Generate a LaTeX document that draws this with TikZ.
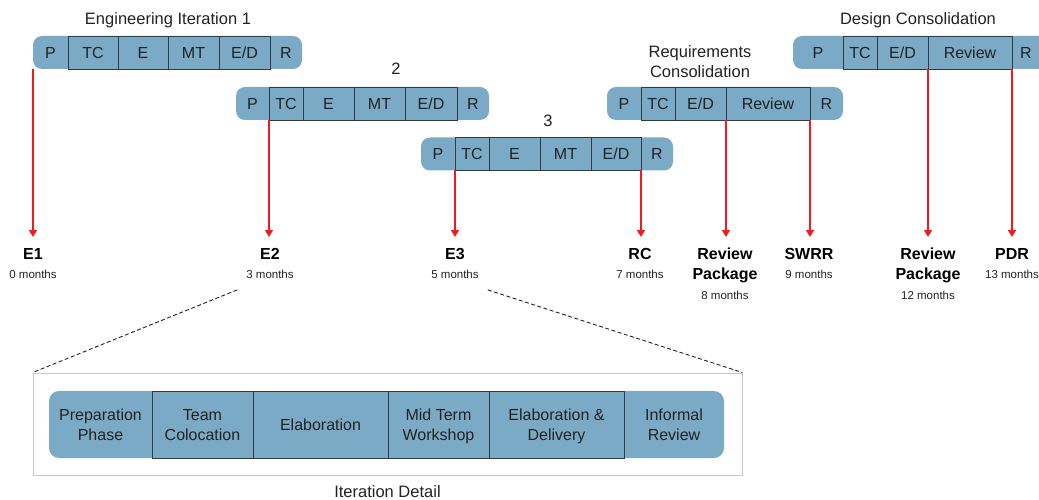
\documentclass[tikz,border=0pt]{standalone}
\usepackage{fontspec}
\setmainfont{Liberation Sans}
\usetikzlibrary{positioning,arrows.meta}

\definecolor{barblue}{RGB}{122,170,198}
\definecolor{segline}{RGB}{48,60,68}
\definecolor{inkgrey}{RGB}{34,34,34}
\definecolor{arrowred}{RGB}{245,25,25}
\definecolor{boxgrey}{RGB}{200,200,200}

\tikzstyle{barbg}=[fill=barblue,rounded corners=9pt,inner sep=0pt,minimum height=33pt]
\tikzstyle{endseg}=[inner sep=0pt,outer sep=0pt,minimum height=33pt,text height=11.4pt,text depth=0pt,text=inkgrey,font=\fontsize{16}{20}\selectfont]
\tikzstyle{seg}=[endseg,draw=segline,line width=0.9pt]
\tikzstyle{dend}=[inner sep=0pt,minimum height=67pt,align=center,text depth=0pt,text=inkgrey,font=\fontsize{16}{20}\selectfont]
\tikzstyle{dseg}=[dend,draw=segline,line width=0.9pt]
\tikzstyle{bartitle}=[anchor=north,align=center,inner sep=0pt,text=inkgrey,font=\fontsize{16.5}{20}\selectfont]
\tikzstyle{milestone}=[anchor=north,align=center,inner sep=1pt,text depth=0pt,text=black,font=\fontsize{16}{20}\selectfont\bfseries]
\tikzstyle{months}=[inner sep=0pt,text=inkgrey,font=\fontsize{11.5}{14}\selectfont]
\tikzstyle{feed}=[draw=arrowred,line width=1.6pt,-{Triangle[width=8pt,length=7pt]},shorten >=10pt]
\tikzstyle{zoomline}=[draw=inkgrey,line width=0.9pt,dash pattern=on 4pt off 2.5pt]
\tikzstyle{detailbox}=[draw=boxgrey,line width=0.9pt,inner sep=0pt]

\begin{document}
\begin{tikzpicture}[x=1pt, y=-1pt]
    \useasboundingbox (0,0) rectangle (1039,500);
    % First the rounded bars behind the phases
    \foreach \xa/\xb/\y/\name in {33/302/52.5/bar1, 236/489/103.5/bar2, 421/673/154/bar3, 607/843/103.5/barrc, 793/1060/52.5/bardc}
        \node[barbg, minimum width={(\xb-\xa)*1pt}] (\name) at ({(\xa+\xb)/2},\y) {};
    % Then the phases of every bar
    \foreach \xa/\xb/\y/\name/\txt/\kind in {
        33/68/52.5/b1p/P/endseg, 68/118/52.5/b1tc/TC/seg, 118/168/52.5/b1e/E/seg,
        168/219/52.5/b1mt/MT/seg, 219/270/52.5/b1ed/{E/D}/seg, 270/302/52.5/b1r/R/endseg,
        236/269/103.5/b2p/P/endseg, 269/303/103.5/b2tc/TC/seg, 303/354/103.5/b2e/E/seg,
        354/405/103.5/b2mt/MT/seg, 405/457/103.5/b2ed/{E/D}/seg, 457/489/103.5/b2r/R/endseg,
        421/455/154/b3p/P/endseg, 455/489/154/b3tc/TC/seg, 489/540/154/b3e/E/seg,
        540/591/154/b3mt/MT/seg, 591/641/154/b3ed/{E/D}/seg, 641/673/154/b3r/R/endseg,
        607/641/103.5/rcp/P/endseg, 641/675/103.5/rctc/TC/seg, 675/726/103.5/rced/{E/D}/seg,
        726/810/103.5/rcrev/Review/seg, 810/843/103.5/rcr/R/endseg,
        793/843/52.5/dcp/P/endseg, 843/877/52.5/dctc/TC/seg, 877/928/52.5/dced/{E/D}/seg,
        928/1012/52.5/dcrev/Review/seg, 1012/1040/52.5/dcr/R/endseg}
        \node[\kind, minimum width={(\xb-\xa)*1pt}] (\name) at ({(\xa+\xb)/2},\y) {\txt};
    % Titles over the bars
    \node[bartitle] (title1) at (168,12.5) {Engineering Iteration 1};
    \node[bartitle] (title2) at (396,63) {2};
    \node[bartitle] (title3) at (548,114.5) {3};
    \node[bartitle] (titlerc) at (700,45) {Requirements\\Consolidation};
    \node[bartitle] (titledc) at (918,12) {Design Consolidation};
    % Milestones and their dates
    \foreach \x/\name/\txt in {33/mE1/E1, 270/mE2/E2, 455/mE3/E3, 640/mRC/RC, 725/mRP1/{Review\\Package},
        809/mSWRR/SWRR, 928/mRP2/{Review\\Package}, 1012/mPDR/PDR}
        \node[milestone] (\name) at (\x,247) {\txt};
    \foreach \name/\ms/\n in {t0/mE1/0, t3/mE2/3, t5/mE3/5, t7/mRC/7, t8/mRP1/8, t9/mSWRR/9, t12/mRP2/12, t13/mPDR/13}
        \node[months, below=9.5pt of \ms] (\name) {\n\ months};
    % Red arrows from the phase borders down to the milestones
    \foreach \src/\anc/\dest in {b1p/south west/mE1, b2tc/south west/mE2, b3tc/south west/mE3, b3ed/south east/mRC,
        rcrev/south west/mRP1, rcrev/south east/mSWRR, dcrev/south west/mRP2, dcrev/south east/mPDR}
        \draw[feed] (\src.\anc) -- (\src.\anc |- \dest.north);
    % Iteration detail
    \node[detailbox, minimum width=709pt, minimum height=102pt] (detail) at (387.5,424) {};
    \node[barbg, rounded corners=10pt, minimum width=675pt, minimum height=67pt] (dbar) at (386.5,424.5) {};
    \foreach \xa/\xb/\name/\txt/\kind in {49/152/dprep/{Preparation\\Phase}/dend, 152/253/dteam/{Team\\Colocation}/dseg,
        253/388/delab/Elaboration/dseg, 388/489/dmid/{Mid Term\\Workshop}/dseg,
        489/624/ddel/{Elaboration \&\\Delivery}/dseg, 624/724/drev/{Informal\\Review}/dend}
        \node[\kind, minimum width={(\xb-\xa)*1pt}] (\name) at ({(\xa+\xb)/2},424.5) {\txt};
    \node[bartitle, below=10pt of detail] (detailcap) {Iteration Detail};
    \coordinate (zl) at ([xshift=-9pt,yshift=-11pt]t3.south west);
    \coordinate (zr) at ([xshift=9pt,yshift=-11pt]t5.south east);
    \draw[zoomline] (zl) -- (detail.north west);
    \draw[zoomline] (zr) -- (detail.north east);
\end{tikzpicture}
\end{document}
